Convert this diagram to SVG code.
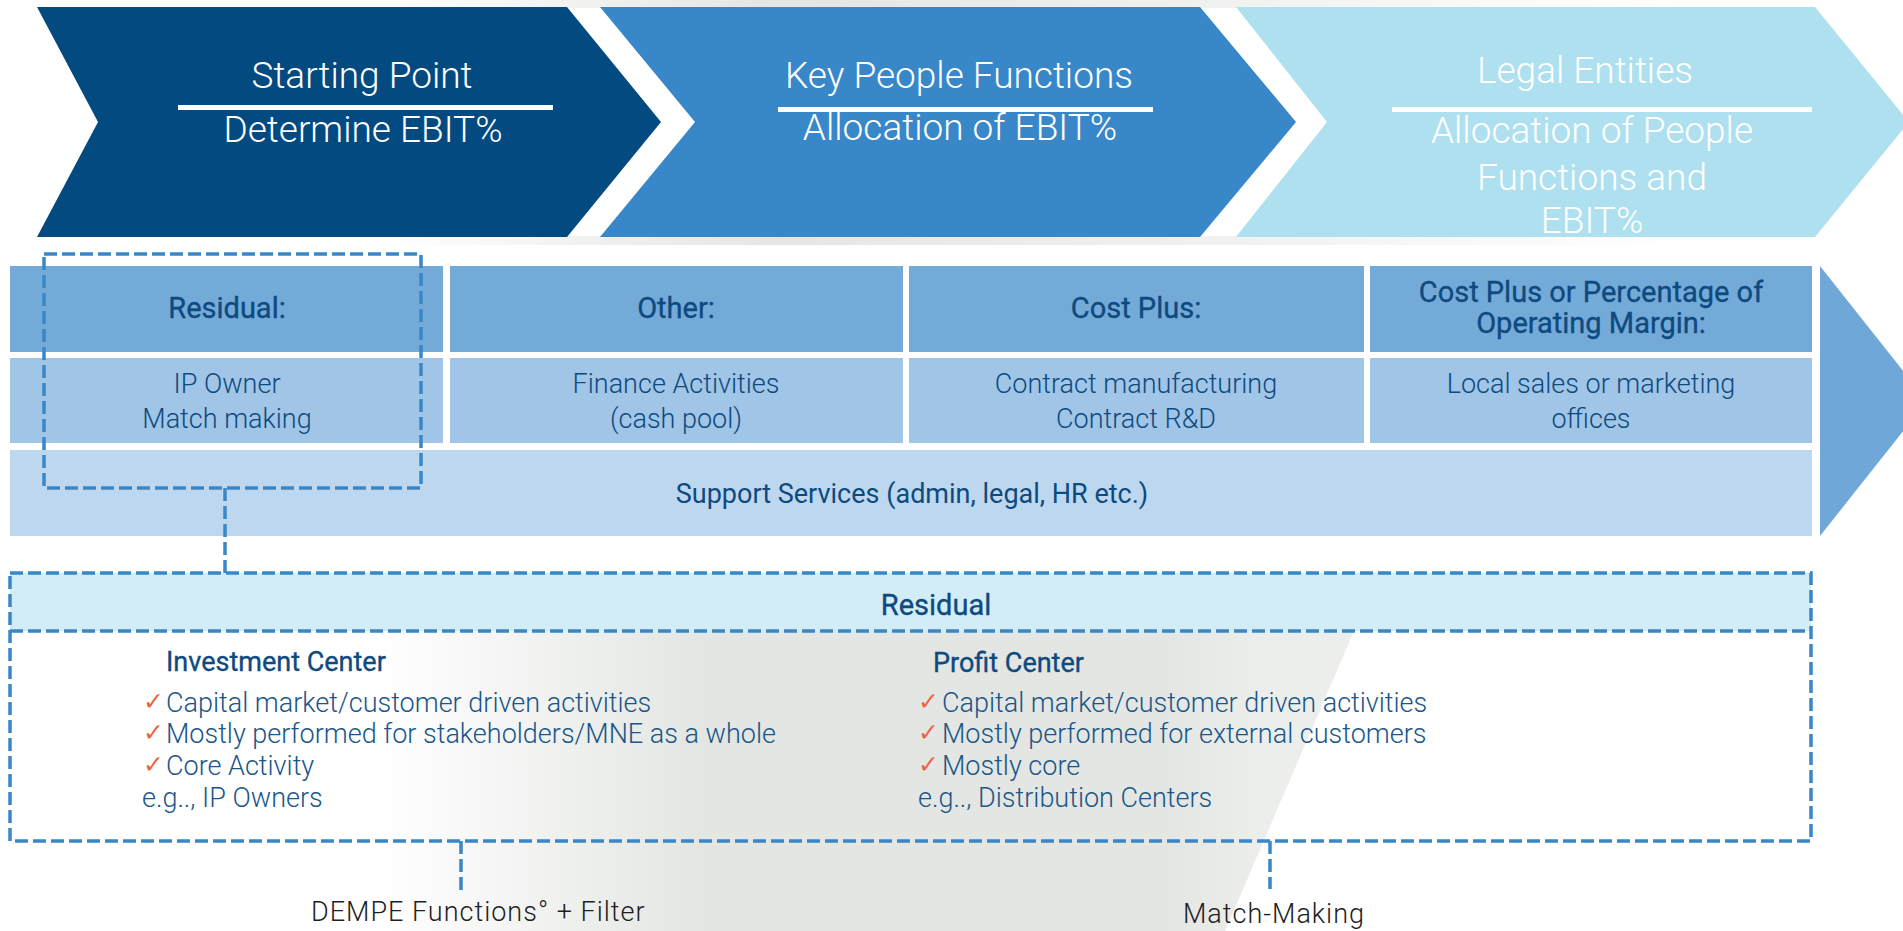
<svg xmlns="http://www.w3.org/2000/svg" width="1903" height="931" viewBox="0 0 1903 931">
<style>
text{font-family:Roboto,"Liberation Sans",sans-serif}
.chev{font-weight:300;font-size:37px;fill:#ffffff;text-anchor:middle}
.hdr{font-weight:400;font-size:29px;fill:#0e4a7f;stroke:#0e4a7f;stroke-width:0.35px;text-anchor:middle}
.row{font-weight:300;font-size:27px;fill:#0e4a7f;text-anchor:middle}
.sup{font-weight:400;font-size:27px;fill:#0e4a7f;text-anchor:middle}
.item{font-weight:300;font-size:27px;fill:#1a5689}
.ttl{font-weight:400;font-size:27px;fill:#0e4a7f;stroke:#0e4a7f;stroke-width:0.35px}
.chk{font-family:"DejaVu Sans",sans-serif;font-size:25px;fill:#ec6446}
.lbl{font-weight:300;font-size:27px;fill:#1e1e1e;letter-spacing:1px}
.dash{fill:none;stroke:#3a87c8;stroke-width:3.5;stroke-dasharray:13 5}
</style>
<defs>
<linearGradient id="funnel" x1="380" y1="0" x2="1360" y2="0" gradientUnits="userSpaceOnUse">
<stop offset="0" stop-color="#e3e6e2" stop-opacity="0"/>
<stop offset="0.33" stop-color="#e3e6e2" stop-opacity="1"/>
<stop offset="0.8" stop-color="#e3e6e2" stop-opacity="1"/>
<stop offset="0.9" stop-color="#eceeeb" stop-opacity="1"/>
<stop offset="1" stop-color="#eceeeb" stop-opacity="1"/>
</linearGradient>
<linearGradient id="strip" x1="380" y1="0" x2="1700" y2="0" gradientUnits="userSpaceOnUse">
<stop offset="0" stop-color="#e3e6e2" stop-opacity="0"/>
<stop offset="0.3" stop-color="#e3e6e2" stop-opacity="1"/>
<stop offset="1" stop-color="#e3e6e2" stop-opacity="0"/>
</linearGradient>
</defs>
<rect width="1903" height="931" fill="#ffffff"/>
<g id="background">
<polygon points="380,631 1354,631 1225,931 380,931" fill="url(#funnel)"/>
<rect x="380" y="0" width="1320" height="8" fill="url(#strip)"/>
<rect x="380" y="236" width="1320" height="9" fill="url(#strip)"/>
</g>
<g id="chevron-starting-point">
<polygon points="37,7 567,7 661,122 567,237 37,237 98,122" fill="#034a80"/>
<text class="chev" x="362" y="88">Starting Point</text>
<rect x="178" y="105" width="375" height="5" fill="#ffffff"/>
<text class="chev" x="363" y="142">Determine EBIT%</text>
</g>
<g id="chevron-key-people">
<polygon points="600,7 1200,7 1296,122 1200,237 600,237 695,122" fill="#3887c8"/>
<text class="chev" x="959" y="88">Key People Functions</text>
<rect x="778" y="107" width="375" height="5" fill="#ffffff"/>
<text class="chev" x="960" y="140">Allocation of EBIT%</text>
</g>
<g id="chevron-legal-entities">
<polygon points="1236,7 1815,7 1909,122 1815,237 1236,237 1327,122" fill="#aee0ef"/>
<text class="chev" x="1585" y="83">Legal Entities</text>
<rect x="1392" y="107" width="420" height="5" fill="#ffffff"/>
<text class="chev" x="1592" y="143">Allocation of People</text>
<text class="chev" x="1592" y="190">Functions and</text>
<text class="chev" x="1592" y="233">EBIT%</text>
</g>
<g id="cell-residual">
<rect x="10" y="266" width="433" height="86" fill="#74aad8"/>
<text class="hdr" x="227" y="318">Residual:</text>
<rect x="10" y="358" width="433" height="85" fill="#a0c5e6"/>
<text class="row" x="227" y="393">IP Owner</text>
<text class="row" x="227" y="428">Match making</text>
</g>
<g id="cell-other">
<rect x="450" y="266" width="453" height="86" fill="#74aad8"/>
<text class="hdr" x="676" y="318">Other:</text>
<rect x="450" y="358" width="453" height="85" fill="#a0c5e6"/>
<text class="row" x="676" y="393">Finance Activities</text>
<text class="row" x="676" y="428">(cash pool)</text>
</g>
<g id="cell-cost-plus">
<rect x="909" y="266" width="455" height="86" fill="#74aad8"/>
<text class="hdr" x="1136" y="318">Cost Plus:</text>
<rect x="909" y="358" width="455" height="85" fill="#a0c5e6"/>
<text class="row" x="1136" y="393">Contract manufacturing</text>
<text class="row" x="1136" y="428">Contract R&amp;D</text>
</g>
<g id="cell-cost-plus-margin">
<rect x="1370" y="266" width="442" height="86" fill="#74aad8"/>
<text class="hdr" x="1591" y="302">Cost Plus or Percentage of</text>
<text class="hdr" x="1591" y="333">Operating Margin:</text>
<rect x="1370" y="358" width="442" height="85" fill="#a0c5e6"/>
<text class="row" x="1591" y="393">Local sales or marketing</text>
<text class="row" x="1591" y="428">offices</text>
</g>
<g id="support-services">
<rect x="10" y="450" width="1802" height="86" fill="#bdd8ee"/>
<text class="sup" x="912" y="503">Support Services (admin, legal, HR etc.)</text>
</g>
<g id="arrow-right">
<polygon points="1820,266 1927,401 1820,536" fill="#6fa8d8"/>
</g>
<g id="residual-highlight">
<rect class="dash" x="44" y="254" width="377" height="234"/>
</g>
<g id="residual-box">
<rect x="10" y="573" width="1801" height="58" fill="#d3edf6"/>
<rect class="dash" x="10" y="573" width="1801" height="268"/>
<line class="dash" x1="10" y1="631" x2="1811" y2="631"/>
<text class="hdr" x="936" y="615">Residual</text>
</g>
<g id="investment-center">
<text class="ttl" x="166" y="671">Investment Center</text>
<text class="chk" x="143" y="710">✓</text>
<text class="item" x="166" y="712">Capital market/customer driven activities</text>
<text class="chk" x="143" y="741">✓</text>
<text class="item" x="166" y="743">Mostly performed for stakeholders/MNE as a whole</text>
<text class="chk" x="143" y="773">✓</text>
<text class="item" x="166" y="775">Core Activity</text>
<text class="item" x="142" y="807">e.g.., IP Owners</text>
</g>
<g id="profit-center">
<text class="ttl" x="933" y="672">Profit Center</text>
<text class="chk" x="918" y="710">✓</text>
<text class="item" x="942" y="712">Capital market/customer driven activities</text>
<text class="chk" x="918" y="741">✓</text>
<text class="item" x="942" y="743">Mostly performed for external customers</text>
<text class="chk" x="918" y="773">✓</text>
<text class="item" x="942" y="775">Mostly core</text>
<text class="item" x="918" y="807">e.g.., Distribution Centers</text>
</g>
<g id="connectors">
<line class="dash" x1="225" y1="488" x2="225" y2="573"/>
<line class="dash" x1="461" y1="841" x2="461" y2="890"/>
<line class="dash" x1="1270" y1="841" x2="1270" y2="889"/>
</g>
<g id="label-dempe">
<text class="lbl" x="311" y="921">DEMPE Functions° + Filter</text>
</g>
<g id="label-match-making">
<text class="lbl" x="1183" y="923">Match-Making</text>
</g>
</svg>
